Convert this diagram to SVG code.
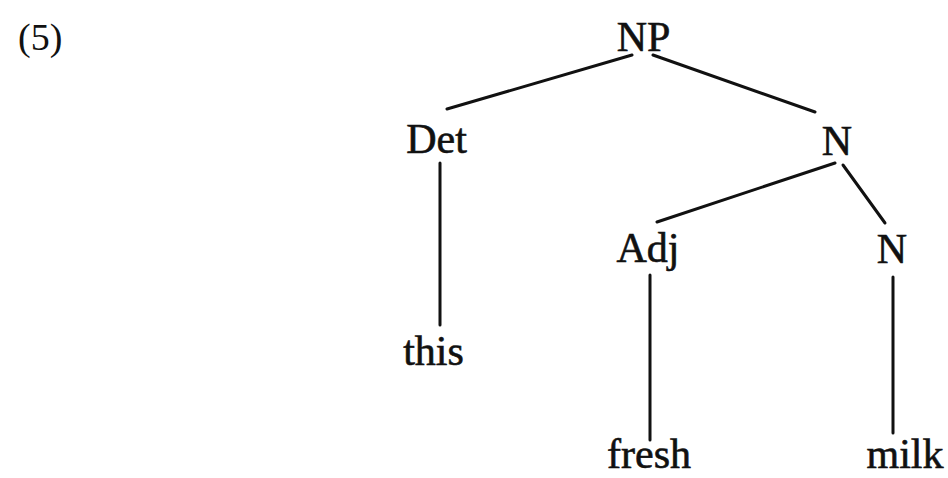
<svg xmlns="http://www.w3.org/2000/svg" width="948" height="478" viewBox="0 0 948 478">
<style>
.lbl{font-family:"Liberation Serif","Times New Roman",serif;font-size:42px;fill:#111;text-anchor:middle;stroke:#111;stroke-width:0.6}
.edge{stroke:#111;stroke-width:3;stroke-linecap:round;fill:none}
</style>
<rect width="948" height="478" fill="#ffffff"/>
<text x="18" y="50" style="font-family:'Liberation Serif','Times New Roman',serif;font-size:38px;fill:#111">(5)</text>
<g id="connectors">
<line class="edge" x1="632" y1="55" x2="447" y2="109"/>
<line class="edge" x1="653" y1="55" x2="815" y2="112"/>
<line class="edge" x1="440" y1="163" x2="440" y2="325"/>
<line class="edge" x1="835" y1="163" x2="657" y2="222"/>
<line class="edge" x1="843" y1="165" x2="885" y2="223"/>
<line class="edge" x1="650" y1="275" x2="650" y2="440"/>
<line class="edge" x1="893" y1="277" x2="893" y2="433"/>
</g>
<g id="np"><text class="lbl" x="643.5" y="51">NP</text></g>
<g id="det"><text class="lbl" x="436.5" y="153">Det</text></g>
<g id="n1"><text class="lbl" x="837" y="155">N</text></g>
<g id="adj"><text class="lbl" x="648" y="262">Adj</text></g>
<g id="n2"><text class="lbl" x="892" y="263">N</text></g>
<g id="this"><text class="lbl" x="433.5" y="365">this</text></g>
<g id="fresh"><text class="lbl" x="649" y="468">fresh</text></g>
<g id="milk"><text class="lbl" x="905" y="468">milk</text></g>
</svg>
